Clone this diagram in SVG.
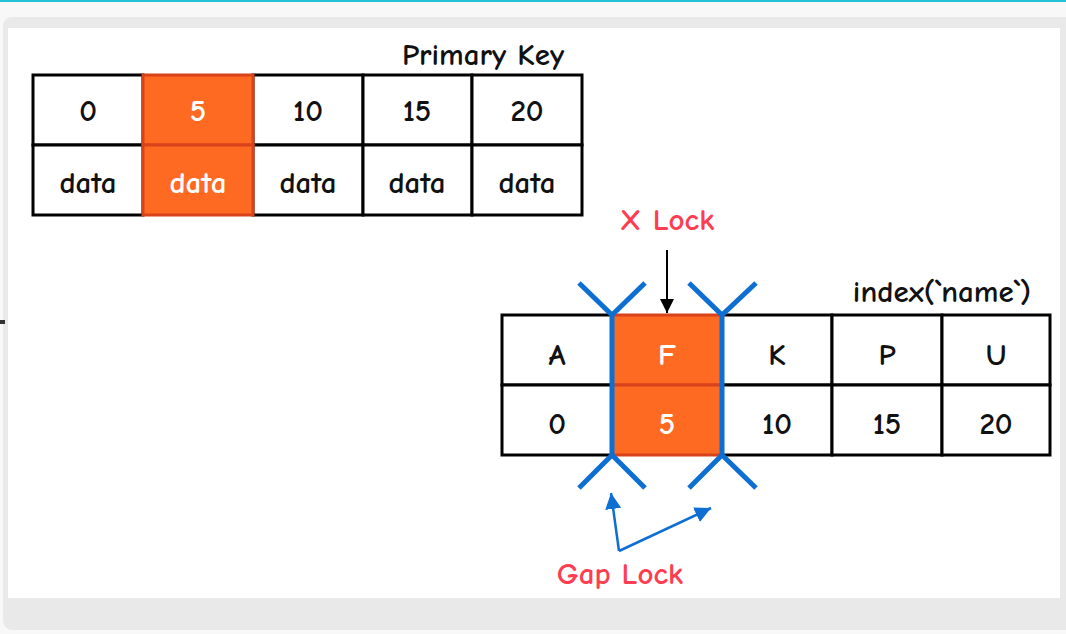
<svg xmlns="http://www.w3.org/2000/svg" width="1066" height="634" viewBox="0 0 1066 634">
  <defs>
    <style>
      .cell { fill: #ffffff; stroke: #000000; stroke-width: 3; }
      .hot { fill: #fe6a22; stroke: #d9431b; stroke-width: 3; }
      .t { font-family: "Comic Sans MS", "Comic Neue", "Liberation Sans", sans-serif; font-size: 31px; font-weight: 700; text-anchor: middle; fill: #111111; }
      .tw { fill: #ffffff; }
      .red { fill: #ff3d50; font-size: 31px; }
      .gap { stroke: #0d6fd2; stroke-width: 5; fill: none; stroke-linecap: butt; }
      .garrow { stroke: #0d6fd2; stroke-width: 2.5; fill: none; }
    </style>
    <marker id="blackHead" viewBox="0 0 10 10" refX="10" refY="5" markerWidth="14" markerHeight="14" orient="auto" markerUnits="userSpaceOnUse">
      <path d="M0,0 L10,5 L0,10 z" fill="#000"/>
    </marker>
    <marker id="blueHead" viewBox="0 0 10 10" refX="10" refY="5" markerWidth="16" markerHeight="16" orient="auto" markerUnits="userSpaceOnUse">
      <path d="M0,0 L10,5 L0,10 z" fill="#0d6fd2"/>
    </marker>
  </defs>

  <!-- page backdrop and card -->
  <rect x="0" y="0" width="1066" height="634" fill="#f8f8f8"/>
  <rect x="0" y="0" width="1066" height="2" fill="#22c3d6"/>
  <rect x="3" y="17" width="1072" height="613" rx="9" fill="#e9e9e9"/>
  <rect x="8" y="28" width="1052" height="570" fill="#ffffff"/>
  <rect x="0" y="320" width="5" height="4" fill="#333"/>

  <!-- primary key table -->
  <g id="pk-table">
    <text class="t" x="483" y="65">Primary Key</text>
    <rect class="cell" x="33" y="75" width="110" height="70"/>
    <rect class="cell" x="253" y="75" width="110" height="70"/>
    <rect class="cell" x="363" y="75" width="109" height="70"/>
    <rect class="cell" x="472" y="75" width="110" height="70"/>
    <rect class="cell" x="33" y="145" width="110" height="70"/>
    <rect class="cell" x="253" y="145" width="110" height="70"/>
    <rect class="cell" x="363" y="145" width="109" height="70"/>
    <rect class="cell" x="472" y="145" width="110" height="70"/>
    <rect class="hot" x="143" y="75" width="110" height="70"/>
    <rect class="hot" x="143" y="145" width="110" height="70"/>
    <text class="t" x="88" y="121">0</text>
    <text class="t tw" x="198" y="121">5</text>
    <text class="t" x="308" y="121">10</text>
    <text class="t" x="417" y="121">15</text>
    <text class="t" x="527" y="121">20</text>
    <text class="t" x="88" y="193">data</text>
    <text class="t tw" x="198" y="193">data</text>
    <text class="t" x="308" y="193">data</text>
    <text class="t" x="417" y="193">data</text>
    <text class="t" x="527" y="193">data</text>
  </g>

  <!-- secondary index table -->
  <g id="name-index">
    <text class="t" x="942" y="302">index(`name`)</text>
    <rect class="cell" x="502" y="315" width="110" height="70"/>
    <rect class="cell" x="722" y="315" width="110" height="70"/>
    <rect class="cell" x="832" y="315" width="110" height="70"/>
    <rect class="cell" x="942" y="315" width="108" height="70"/>
    <rect class="cell" x="502" y="385" width="110" height="70"/>
    <rect class="cell" x="722" y="385" width="110" height="70"/>
    <rect class="cell" x="832" y="385" width="110" height="70"/>
    <rect class="cell" x="942" y="385" width="108" height="70"/>
    <rect class="hot" x="612" y="315" width="110" height="70"/>
    <rect class="hot" x="612" y="385" width="110" height="70"/>
    <text class="t" x="557" y="365">A</text>
    <text class="t tw" x="667" y="365">F</text>
    <text class="t" x="777" y="365">K</text>
    <text class="t" x="887" y="365">P</text>
    <text class="t" x="996" y="365">U</text>
    <text class="t" x="557" y="434">0</text>
    <text class="t tw" x="667" y="434">5</text>
    <text class="t" x="777" y="434">10</text>
    <text class="t" x="887" y="434">15</text>
    <text class="t" x="996" y="434">20</text>
  </g>

  <!-- gap lock bars -->
  <g id="gap-bars">
    <path class="gap" d="M612,313 V457 M579,283 L612,315 L645,283 M579,488 L612,455 L645,488"/>
    <path class="gap" d="M722,313 V457 M689,283 L722,315 L756,283 M689,488 L722,455 L756,488"/>
  </g>

  <!-- labels -->
  <g id="x-lock">
    <text class="t red" x="667" y="230">X Lock</text>
  </g>
  <g id="gap-lock">
    <text class="t red" x="620" y="584">Gap Lock</text>
  </g>

  <g id="connectors">
    <line x1="667" y1="250" x2="667" y2="313" stroke="#000" stroke-width="2" marker-end="url(#blackHead)"/>
    <line class="garrow" x1="619" y1="551" x2="611" y2="493" marker-end="url(#blueHead)"/>
    <line class="garrow" x1="619" y1="551" x2="711" y2="508" marker-end="url(#blueHead)"/>
  </g>
</svg>
